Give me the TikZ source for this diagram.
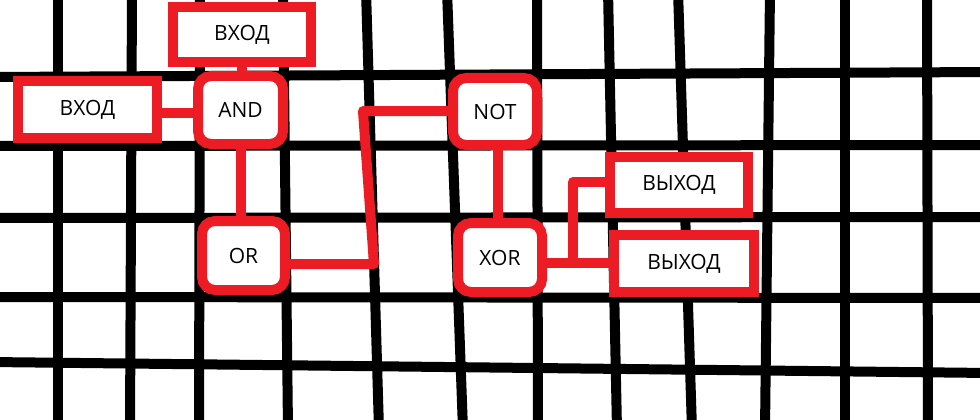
\documentclass[tikz,border=0pt]{standalone}
\usepackage{fontspec}
\setmainfont{Open Sans}
\definecolor{pred}{RGB}{237,28,36}
\pgfdeclarelayer{gridl}
\pgfdeclarelayer{wires}
\pgfsetlayers{gridl,wires,main}
\tikzset{
  gridline/.style={line width=10pt, black},
  sqbox/.style={draw=pred, line width=10pt, fill=white, inner sep=0pt, font=\fontsize{21}{24}\selectfont},
  gatebox/.style={draw=pred, line width=10pt, fill=white, rounded corners=13pt, inner sep=0pt, font=\fontsize{21}{24}\selectfont},
  wire/.style={draw=pred, line width=10pt},
}
\begin{document}
\begin{tikzpicture}[x=1pt, y=-1pt]
\useasboundingbox (0,0) rectangle (980,420);
\clip (0,0) rectangle (980,420);
\begin{pgfonlayer}{gridl}
\fill[white] (0,0) rectangle (980,420);
\foreach \a/\b in {58/58, 132/130, 200/199, 283/288, 366/379, 447/463, 537/538, 608/617, 678/692, 770/765, 845/845, 927/928}
  \draw[gridline] (\a,-10) -- (\b,430);
\foreach \a/\b in {77/72, 146/145, 218/217, 297/298, 362/373}
  \draw[gridline] (-10,\a) -- (990,\b);
\end{pgfonlayer}
% nodes
\node[sqbox, minimum width=138pt, minimum height=55pt] (in1) at (242,34.5) {ВХОД};
\node[sqbox, minimum width=139pt, minimum height=57pt] (in2) at (87.5,109.5) {ВХОД\hspace{8pt}};
\node[gatebox, minimum width=85pt, minimum height=68pt] (and) at (240.5,110) {AND\hspace{4pt}};
\node[gatebox, minimum width=83pt, minimum height=69pt] (or) at (243.5,255.5) {OR\hspace{8pt}};
\node[gatebox, minimum width=84pt, minimum height=67pt] (not) at (495,111.5) {NOT};
\node[gatebox, minimum width=84pt, minimum height=69pt] (xor) at (500,257.5) {XOR\hspace{4pt}};
\node[sqbox, minimum width=138pt, minimum height=56pt] (out1) at (679,185) {ВЫХОД\hspace{4pt}};
\node[sqbox, minimum width=140pt, minimum height=57pt] (out2) at (684,263.5) {ВЫХОД};
\coordinate (b1) at (374,264);
\coordinate (b2) at (363,111);
\coordinate (j) at (573,263);
\coordinate (k) at (573,182);
% connectors (behind boxes)
\begin{pgfonlayer}{wires}
\draw[wire] (in1.south) -- (in1.south |- and.north);
\draw[wire] (in2.east |- 0,113) -- (and.west |- 0,113);
\draw[wire] (and.south) -- (and.south |- or.north);
\draw[wire, line join=round] (or.east |- b1) -- (b1) -- (b2) -- (b2 -| not.west);
\draw[wire] (498,0 |- not.south) -- (498,0 |- xor.north);
\draw[wire] (xor.east |- j) -- (j -| out2.west);
\draw[wire, line join=round] (j) -- (k) -- (k -| out1.west);
\end{pgfonlayer}
\end{tikzpicture}
\end{document}
